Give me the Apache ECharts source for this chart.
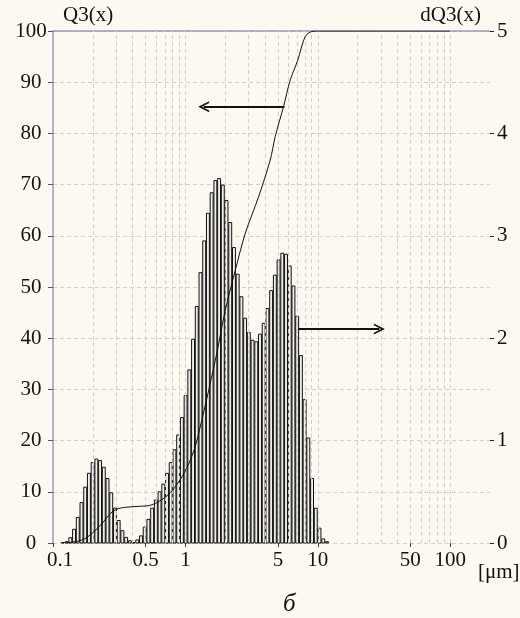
<!DOCTYPE html>
<html>
<head>
<meta charset="utf-8">
<script src="https://cdn.jsdelivr.net/npm/echarts@6/dist/echarts.min.js"></script>
<style>
  html, body { margin: 0; padding: 0; background: #fdf9f1; }
  #chart { width: 520px; height: 618px; }
</style>
</head>
<body>
<div id="chart"></div>
<script>
// Size classes of the analyser: geometric grid, lower edge of the first class and classes per decade
const firstClassEdge = 0.1150;
const classesPerDecade = 35.6;

// Density distribution dQ3(x) for each size class (right scale)
const dQ3 = [
  0.005, 0.013, 0.052, 0.134, 0.25, 0.395, 0.545, 0.68, 0.785, 0.82,
  0.805, 0.74, 0.63, 0.49, 0.34, 0.22, 0.12, 0.055, 0.022, 0.003,
  0.03, 0.07, 0.155, 0.23, 0.34, 0.42, 0.50, 0.575, 0.68, 0.785,
  0.91, 1.055, 1.225, 1.44, 1.69, 1.99, 2.31, 2.64, 2.95, 3.22,
  3.42, 3.54, 3.56, 3.495, 3.345, 3.13, 2.885, 2.625, 2.405, 2.195,
  2.055, 1.98, 1.965, 2.04, 2.145, 2.29, 2.465, 2.615, 2.765, 2.83,
  2.82, 2.705, 2.51, 2.215, 1.83, 1.40, 1.025, 0.63, 0.34, 0.145,
  0.04, 0.0125
];

// Cumulative distribution Q3(x), % (left scale)
const q3Size = [0.1246, 0.1663, 0.1978, 0.2352, 0.2722, 0.3052, 0.3532, 0.4447, 0.5292, 0.5942,
  0.6866, 0.793, 0.9432, 1.091, 1.224, 1.684, 2.003, 2.384, 2.835, 3.57,
  4.374, 4.771, 5.511, 6.191, 7.063, 8.031, 9.004, 10.1, 100];
const q3Value = [0, 0.6, 1.9, 3.85, 5.8, 6.64, 6.97, 7.17, 7.29, 7.75,
  8.73, 10.2, 12.95, 16.2, 20.1, 35.7, 45.5, 53.3, 60.5, 67.6,
  74.8, 79.4, 85.2, 90.4, 94.3, 98.9, 99.9, 100, 100];

// Axis labels and grid
const xTickLabels = [0.1, 0.5, 1, 5, 10, 50, 100];
const xGridLines = [0.2, 0.3, 0.4, 0.5, 0.6, 0.7, 0.8, 0.9, 1, 2, 3, 4, 5, 6, 7, 8, 9,
  10, 20, 30, 40, 50, 60, 70, 80, 90, 100];

// Arrows pointing each curve to its scale
const arrowToLeft = { y: 85.2, from: 5.6, to: 1.374 };
const arrowToRight = { y: 2.09, from: 7.14, to: 29.2 };

const serif = 'Liberation Serif, Times New Roman, serif';
const axisPurple = '#a197b8';
const gridGrey = '#cfcfcf';
const labelSize = 21;

const bars = dQ3.map((v, i) => [
  firstClassEdge * Math.pow(10, i / classesPerDecade),
  firstClassEdge * Math.pow(10, (i + 1) / classesPerDecade),
  v
]);
const q3Data = q3Size.map((x, i) => [x, q3Value[i]]);

const chevron = 'path://M0,10 L5,0 L10,10 L8.4,10 L5,3.4 L1.6,10 Z';

const chart = echarts.init(document.getElementById('chart'), null, { renderer: 'canvas' });
chart.setOption({
  backgroundColor: '#fdf9f1',
  animation: false,
  grid: { left: 53, right: 30, top: 31, bottom: 75 },
  xAxis: [{
    type: 'log', logBase: 10, min: 0.1, max: 200, position: 'bottom',
    axisLine: { show: false, onZero: false },
    axisTick: { show: true, customValues: xTickLabels, length: 4, lineStyle: { color: '#444' } },
    axisLabel: {
      customValues: xTickLabels, margin: 7,
      color: '#111', fontFamily: serif, fontSize: labelSize,
      formatter: v => Math.abs(v - 0.1) < 1e-6 ? '{a|0.1}' : String(+v.toPrecision(6)),
      rich: { a: { padding: [0, 0, 0, 14], color: '#111', fontFamily: serif, fontSize: labelSize } }
    },
    splitLine: { show: false }
  }, {
    type: 'log', logBase: 10, min: 0.1, max: 200, position: 'top',
    axisLine: { show: true, onZero: false, lineStyle: { color: axisPurple, width: 1.5 } },
    axisTick: { show: false }, axisLabel: { show: false }, splitLine: { show: false }
  }],
  yAxis: [{
    type: 'value', min: 0, max: 100, interval: 10, position: 'left',
    axisLine: { show: true, onZero: false, lineStyle: { color: axisPurple, width: 1.5 } },
    axisTick: { show: true, length: 5, lineStyle: { color: '#555' } },
    axisLabel: { margin: 22, align: 'center', color: '#111', fontFamily: serif, fontSize: labelSize },
    splitLine: { show: true, lineStyle: { color: gridGrey, type: [4, 3], width: 1 } }
  }, {
    type: 'value', min: 0, max: 5, interval: 1, position: 'right',
    axisLine: { show: false, onZero: false },
    axisTick: { show: true, length: 4, lineStyle: { color: '#222' } },
    axisLabel: { margin: 7, color: '#111', fontFamily: serif, fontSize: labelSize },
    splitLine: { show: false }
  }],
  series: [{
    // vertical dashed grid
    type: 'line', xAxisIndex: 0, yAxisIndex: 0, data: [], silent: true, z: 1,
    markLine: {
      silent: true, symbol: ['none', 'none'], label: { show: false },
      lineStyle: { color: gridGrey, type: [4, 3], width: 1 },
      data: xGridLines.map(v => ({ xAxis: v }))
    }
  }, {
    name: 'dQ3(x)', type: 'custom', xAxisIndex: 0, yAxisIndex: 1, z: 3,
    data: bars,
    encode: { x: [0, 1], y: 2 },
    renderItem: (params, api) => {
      const p0 = api.coord([api.value(0), api.value(2)]);
      const p1 = api.coord([api.value(1), 0]);
      return {
        type: 'rect',
        shape: { x: p0[0] + 0.4, y: p0[1], width: Math.max(p1[0] - p0[0] - 0.8, 0.5), height: p1[1] - p0[1] },
        style: { fill: '#f1efe8', stroke: '#111', lineWidth: 1 }
      };
    }
  }, {
    name: 'Q3(x)', type: 'line', xAxisIndex: 0, yAxisIndex: 0, z: 5,
    data: q3Data, symbol: 'none', smooth: 0.3,
    lineStyle: { color: '#111', width: 1 },
    markLine: {
      silent: true, symbol: ['none', chevron], symbolSize: [11, 11], label: { show: false },
      lineStyle: { color: '#111', width: 2, type: 'solid' },
      data: [[{ coord: [arrowToLeft.from, arrowToLeft.y] }, { coord: [arrowToLeft.to, arrowToLeft.y] }]]
    }
  }, {
    type: 'line', xAxisIndex: 0, yAxisIndex: 1, data: [], z: 5,
    markLine: {
      silent: true, symbol: ['none', chevron], symbolSize: [11, 11], label: { show: false },
      lineStyle: { color: '#111', width: 2, type: 'solid' },
      data: [[{ coord: [arrowToRight.from, arrowToRight.y] }, { coord: [arrowToRight.to, arrowToRight.y] }]]
    }
  }],
  graphic: [
    { type: 'text', left: 63, top: 5, style: { text: 'Q3(x)', font: labelSize + 'px ' + serif, fill: '#111' } },
    { type: 'text', right: 39, top: 5, style: { text: 'dQ3(x)', font: labelSize + 'px ' + serif, fill: '#111' } },
    { type: 'text', left: 478, top: 562, style: { text: '[μm]', font: labelSize + 'px ' + serif, fill: '#111' } },
    { type: 'text', left: 283, top: 592, style: { text: 'б', font: 'italic 25px ' + serif, fill: '#111' } }
  ]
});
</script>
</body>
</html>
